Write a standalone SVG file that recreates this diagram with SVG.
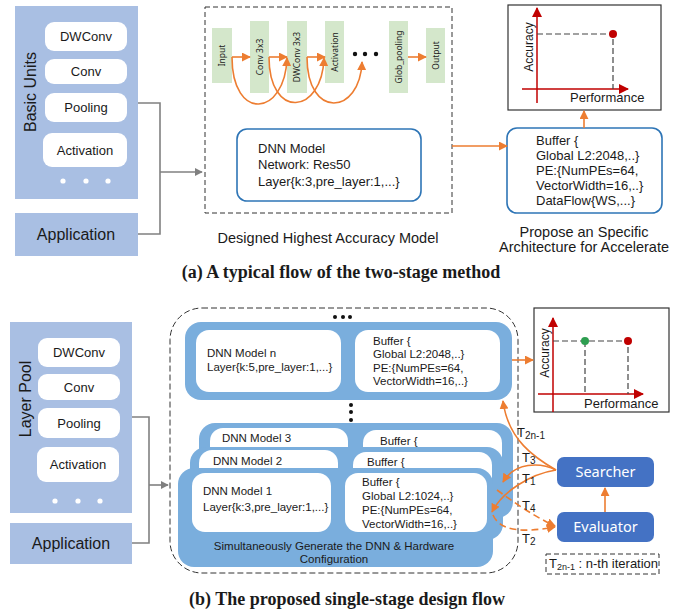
<svg xmlns="http://www.w3.org/2000/svg" width="685" height="609" viewBox="0 0 685 609">
<defs>
<style>
text{font-family:"Liberation Sans",Arial,sans-serif;fill:#1a1a1a}
.panel{fill:#A9BFE3}
.unit{fill:#fff}
.lbl13{font-size:13px}
.lbl16{font-size:16px}
.blk{fill:#D4E7CB}
.blktxt{font-family:"Noto Sans","Liberation Sans",sans-serif;font-size:8.5px}
.gray{fill:none;stroke:#808080;stroke-width:1.6}
.org{fill:none;stroke:#ED7D31;stroke-width:1.6}
.orgd{fill:none;stroke:#ED7D31;stroke-width:1.6;stroke-dasharray:7,4}
.red{fill:none;stroke:#C00000;stroke-width:1.5}
.dash{fill:none;stroke:#333;stroke-width:1;stroke-dasharray:5,3}
.bbox{fill:#fff;stroke:#2E75B6;stroke-width:1.6}
.chart{fill:#fff;stroke:#333;stroke-width:1.2}
.mblue{fill:#7AAEDD}
.caption{font-family:"Liberation Serif","Times New Roman",serif;font-weight:bold;font-size:18px}
.sbox{fill:#4472C4}
.stxt{font-family:"Noto Sans","Liberation Sans",sans-serif;font-size:14.5px;fill:#fff}
.t11{font-size:11.5px}
</style>
<marker id="ga" viewBox="0 0 10 10" refX="9" refY="5" markerWidth="8" markerHeight="8" markerUnits="userSpaceOnUse" orient="auto"><path d="M0,0 L10,5 L0,10 z" fill="#808080"/></marker>
<marker id="oa" viewBox="0 0 10 10" refX="9" refY="5" markerWidth="9" markerHeight="9" markerUnits="userSpaceOnUse" orient="auto"><path d="M0,0 L10,5 L0,10 z" fill="#ED7D31"/></marker>
<marker id="ra" viewBox="0 0 10 10" refX="9" refY="5" markerWidth="10" markerHeight="10" markerUnits="userSpaceOnUse" orient="auto"><path d="M0,0 L10,5 L0,10 z" fill="#C00000"/></marker>
</defs>
<rect width="685" height="609" fill="#fff"/>

<!-- ===== (a) top ===== -->
<g id="basic-units">
<rect class="panel" x="15" y="6" width="123" height="193"/>
<text class="lbl16" transform="translate(36,92) rotate(-90)" text-anchor="middle">Basic Units</text>
<rect class="unit" x="45" y="22" width="82" height="29" rx="9"/>
<text class="lbl13" x="86" y="41" text-anchor="middle">DWConv</text>
<rect class="unit" x="45" y="59" width="82" height="25" rx="9"/>
<text class="lbl13" x="86" y="76" text-anchor="middle">Conv</text>
<rect class="unit" x="45" y="93" width="82" height="29" rx="9"/>
<text class="lbl13" x="86" y="112" text-anchor="middle">Pooling</text>
<rect class="unit" x="43" y="133" width="84" height="34" rx="9"/>
<text class="lbl13" x="85" y="155" text-anchor="middle">Activation</text>
<circle cx="63" cy="181" r="2.6" fill="#fff"/><circle cx="86" cy="181" r="2.6" fill="#fff"/><circle cx="108" cy="181" r="2.6" fill="#fff"/>
</g>
<g id="application-a">
<rect class="panel" x="15" y="213" width="123" height="43"/>
<text class="lbl16" x="76" y="240" text-anchor="middle">Application</text>
</g>

<g id="designed-model">
<rect class="dash" x="205" y="7" width="247" height="206"/>
<rect class="blk" x="212" y="28" width="20" height="55"/>
<text class="blktxt" transform="translate(225,55.5) rotate(-90)" text-anchor="middle">Input</text>
<rect class="blk" x="250" y="21" width="19" height="72"/>
<text class="blktxt" transform="translate(262.5,57) rotate(-90)" text-anchor="middle">Conv 3x3</text>
<rect class="blk" x="287" y="21" width="20" height="72"/>
<text class="blktxt" transform="translate(300,57) rotate(-90)" text-anchor="middle">DWConv 3x3</text>
<rect class="blk" x="325" y="21" width="19" height="62"/>
<text class="blktxt" transform="translate(337.5,52) rotate(-90)" text-anchor="middle">Activation</text>
<rect class="blk" x="389" y="21" width="19" height="72"/>
<text class="blktxt" transform="translate(401.5,57) rotate(-90)" text-anchor="middle">Glob_pooling</text>
<rect class="blk" x="426" y="28" width="19" height="55"/>
<text class="blktxt" transform="translate(438.5,55.5) rotate(-90)" text-anchor="middle">Output</text>
<circle cx="355" cy="54" r="2.2" fill="#111"/><circle cx="365" cy="54" r="2.2" fill="#111"/><circle cx="376" cy="54" r="2.2" fill="#111"/>
<rect class="bbox" x="237" y="129" width="184" height="72" rx="10"/>
<text class="lbl13" x="258" y="153">DNN Model</text>
<text class="lbl13" x="258" y="169">Network: Res50</text>
<text class="lbl13" x="258" y="186">Layer{k:3,pre_layer:1,...}</text>
<text x="328" y="243" text-anchor="middle" font-size="14.5">Designed Highest Accuracy Model</text>
</g>

<g id="arch-a">
<rect class="bbox" x="507" y="128" width="155" height="85" rx="10"/>
<text class="lbl13" x="536" y="145">Buffer {</text>
<text class="lbl13" x="536" y="160">Global L2:2048,..}</text>
<text class="lbl13" x="536" y="175">PE:{NumPEs=64,</text>
<text class="lbl13" x="536" y="190">VectorWidth=16,..}</text>
<text class="lbl13" x="536" y="205">DataFlow{WS,...}</text>
<text x="584" y="237" text-anchor="middle" font-size="14.5">Propose an Specific</text>
<text x="584" y="252" text-anchor="middle" font-size="14.5">Architecture for Accelerate</text>
</g>

<g id="chart-a">
<rect class="chart" x="508" y="5" width="153" height="105"/>
<line class="red" x1="537" y1="103" x2="537" y2="8" marker-end="url(#ra)"/>
<line class="red" x1="522" y1="89" x2="628" y2="89" marker-end="url(#ra)"/>
<polyline points="537,34 613,34 613,89" fill="none" stroke="#444" stroke-width="1.2" stroke-dasharray="6,3"/>
<circle cx="613" cy="34" r="4" fill="#C00000"/>
<text font-size="12" transform="translate(533,47) rotate(-90)" text-anchor="middle">Accuracy</text>
<text class="lbl13" x="570" y="102">Performance</text>
</g>

<text class="caption" x="341" y="278" text-anchor="middle">(a) A typical flow of the two-stage method</text>

<g id="connectors-a">
<polyline class="gray" points="138,103 160,103 160,234 138,234"/>
<line class="gray" x1="160" y1="172" x2="202" y2="172" marker-end="url(#ga)"/>
<line class="org" x1="232" y1="57" x2="250" y2="57" marker-end="url(#oa)"/>
<line class="org" x1="269" y1="57" x2="287" y2="57" marker-end="url(#oa)"/>
<line class="org" x1="307" y1="57" x2="325" y2="57" marker-end="url(#oa)"/>
<line class="org" x1="408" y1="57" x2="426" y2="57" marker-end="url(#oa)"/>
<path class="org" d="M232,57 C232,122 285,117 287,58" marker-end="url(#oa)"/>
<path class="org" d="M269,57 C269,120 322,115 324,58" marker-end="url(#oa)"/>
<path class="org" d="M307,57 C307,120 360,115 362,62" marker-end="url(#oa)"/>
<line class="org" x1="452" y1="146" x2="507" y2="146" marker-end="url(#oa)"/>
<line class="org" x1="584" y1="128" x2="584" y2="111" marker-end="url(#oa)"/>
</g>

<!-- ===== (b) bottom ===== -->
<g id="layer-pool">
<rect class="panel" x="10" y="322" width="122" height="191"/>
<text class="lbl16" transform="translate(31,399) rotate(-90)" text-anchor="middle">Layer Pool</text>
<rect class="unit" x="38" y="338" width="82" height="29" rx="9"/>
<text class="lbl13" x="79" y="357" text-anchor="middle">DWConv</text>
<rect class="unit" x="38" y="374" width="82" height="26" rx="9"/>
<text class="lbl13" x="79" y="392" text-anchor="middle">Conv</text>
<rect class="unit" x="38" y="408" width="82" height="30" rx="9"/>
<text class="lbl13" x="79" y="428" text-anchor="middle">Pooling</text>
<rect class="unit" x="37" y="447" width="82" height="35" rx="9"/>
<text class="lbl13" x="78" y="469" text-anchor="middle">Activation</text>
<circle cx="55" cy="501" r="2.6" fill="#fff"/><circle cx="78" cy="501" r="2.6" fill="#fff"/><circle cx="100" cy="501" r="2.6" fill="#fff"/>
</g>
<g id="application-b">
<rect class="panel" x="10" y="523" width="122" height="41"/>
<text class="lbl16" x="71" y="549" text-anchor="middle">Application</text>
</g>

<g id="generator">
<rect x="170" y="308" width="348" height="265" rx="32" fill="none" stroke="#333" stroke-width="1" stroke-dasharray="6,3"/>
<circle cx="335" cy="317" r="2" fill="#111"/><circle cx="343" cy="317" r="2" fill="#111"/><circle cx="350" cy="317" r="2" fill="#111"/>
<circle cx="351" cy="405" r="2" fill="#111"/><circle cx="351" cy="412" r="2" fill="#111"/><circle cx="351" cy="420" r="2" fill="#111"/>
</g>

<g id="model-n">
<rect class="mblue" x="185" y="322" width="327" height="78" rx="16"/>
<rect class="unit" x="196" y="330" width="145" height="62" rx="13"/>
<rect class="unit" x="355" y="330" width="145" height="62" rx="13"/>
<text class="t11" x="207" y="357">DNN Model n</text>
<text class="t11" x="207" y="371">Layer{k:5,pre_layer:1,...}</text>
<text class="t11" x="373" y="345">Buffer {</text>
<text class="t11" x="373" y="358">Global L2:2048,..}</text>
<text class="t11" x="373" y="372">PE:{NumPEs=64,</text>
<text class="t11" x="373" y="385">VectorWidth=16,..}</text>
</g>

<g id="model-3">
<rect class="mblue" x="199" y="423" width="314" height="95" rx="16"/>
<rect class="unit" x="210" y="428" width="138" height="60" rx="13"/>
<rect class="unit" x="363" y="430" width="139" height="60" rx="13"/>
<text class="t11" x="222" y="442">DNN Model 3</text>
<text class="t11" x="380" y="445">Buffer {</text>
</g>

<g id="model-2">
<rect class="mblue" x="190" y="447" width="313" height="93" rx="16"/>
<rect class="unit" x="199" y="450" width="139" height="60" rx="13"/>
<rect class="unit" x="353" y="452" width="139" height="60" rx="13"/>
<text class="t11" x="213" y="465">DNN Model 2</text>
<text class="t11" x="367" y="466">Buffer {</text>
</g>

<g id="model-1">
<rect class="mblue" x="178" y="468" width="315" height="99" rx="16"/>
<rect class="unit" x="192" y="473" width="139" height="59" rx="13"/>
<rect class="unit" x="345" y="473" width="142" height="59" rx="13"/>
<text class="t11" x="203" y="495">DNN Model 1</text>
<text class="t11" x="203" y="511">Layer{k:3,pre_layer:1,...}</text>
<text class="t11" x="362" y="486">Buffer {</text>
<text class="t11" x="362" y="500">Global L2:1024,..}</text>
<text class="t11" x="362" y="514">PE:{NumPEs=64,</text>
<text class="t11" x="362" y="528">VectorWidth=16,..}</text>
<text class="t11" x="334" y="550" text-anchor="middle">Simultaneously Generate the DNN &amp; Hardware</text>
<text class="t11" x="334" y="563" text-anchor="middle">Configuration</text>
</g>

<g id="chart-b">
<rect class="chart" x="534" y="308" width="135" height="104"/>
<line class="red" x1="553" y1="412" x2="553" y2="318" marker-end="url(#ra)"/>
<line class="red" x1="538" y1="394" x2="643" y2="394" marker-end="url(#ra)"/>
<polyline points="553,341 628,341 628,394" fill="none" stroke="#444" stroke-width="1.2" stroke-dasharray="6,3"/>
<line x1="585" y1="341" x2="585" y2="394" stroke="#444" stroke-width="1.2" stroke-dasharray="6,3"/>
<circle cx="585" cy="341" r="4" fill="#2E9E50"/>
<circle cx="628" cy="341" r="4" fill="#C00000"/>
<text font-size="12" transform="translate(549,353) rotate(-90)" text-anchor="middle">Accuracy</text>
<text class="lbl13" x="584" y="408">Performance</text>
</g>

<g id="searcher">
<rect class="sbox" x="557" y="457" width="97" height="30" rx="7"/>
<text class="stxt" x="605.5" y="477" text-anchor="middle">Searcher</text>
</g>
<g id="evaluator">
<rect class="sbox" x="557" y="512" width="97" height="30" rx="7"/>
<text class="stxt" x="605.5" y="532" text-anchor="middle">Evaluator</text>
</g>

<g id="legend">
<rect x="546" y="554" width="113" height="20" fill="none" stroke="#333" stroke-width="1" stroke-dasharray="5,3"/>
<text x="549" y="568" font-size="13">T<tspan font-size="9" dy="2">2n-1</tspan><tspan dy="-2"> : n-th iteration</tspan></text>
</g>

<text class="caption" x="347" y="605" text-anchor="middle">(b) The proposed single-stage design flow</text>

<g id="connectors-b">
<polyline class="gray" points="132,417 149,417 149,543 132,543"/>
<line class="gray" x1="149" y1="485" x2="168" y2="485" marker-end="url(#ga)"/>
<line class="org" x1="512" y1="360" x2="533" y2="360" marker-end="url(#oa)"/>
<line class="org" x1="605" y1="512" x2="605" y2="488" marker-end="url(#oa)"/>
<path class="org" d="M556,470 C535,458 508,440 503,401" marker-end="url(#oa)"/>
<path class="org" d="M556,470 C540,462 515,462 503,482" marker-end="url(#oa)"/>
<path class="org" d="M556,470 C530,474 502,492 492,512" marker-end="url(#oa)"/>
<path class="orgd" d="M497,490 C515,503 535,517 555,526" marker-end="url(#oa)"/>
<path class="orgd" d="M493,515 C500,531 522,533 555,527" marker-end="url(#oa)"/>
<text x="517" y="437" font-size="13">T<tspan font-size="10" dy="2">2n-1</tspan></text>
<text x="522" y="462" font-size="13">T<tspan font-size="10" dy="2">3</tspan></text>
<text x="522" y="483" font-size="13">T<tspan font-size="10" dy="2">1</tspan></text>
<text x="522" y="510" font-size="13">T<tspan font-size="10" dy="2">4</tspan></text>
<text x="522" y="543" font-size="13">T<tspan font-size="10" dy="2">2</tspan></text>
</g>
</svg>
